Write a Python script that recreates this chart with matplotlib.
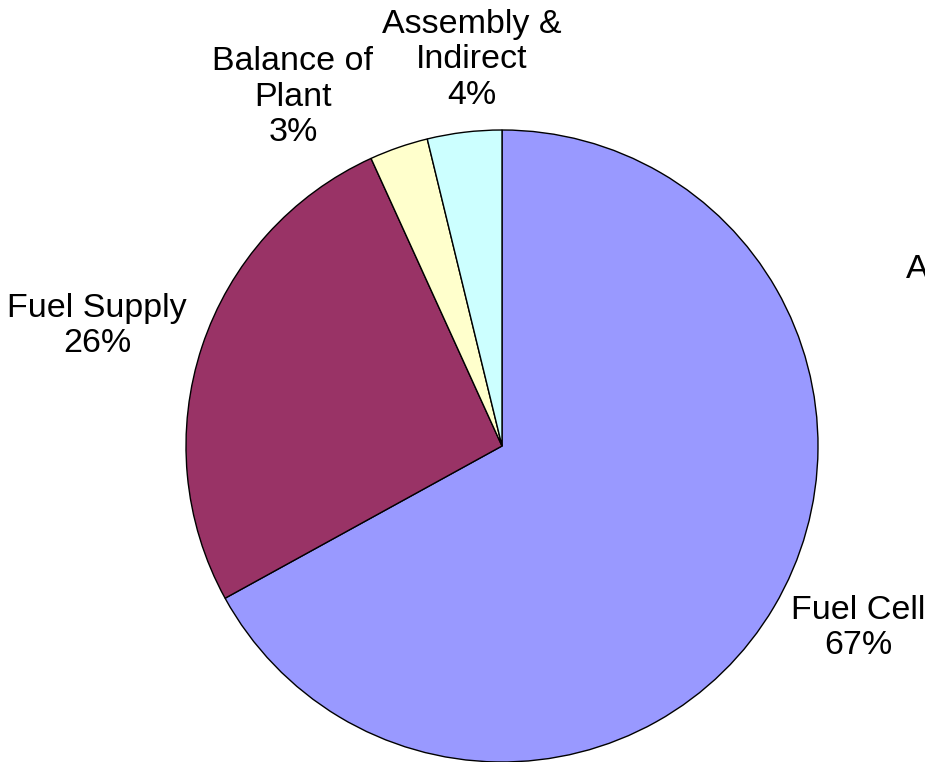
import matplotlib.pyplot as plt

plt.rcParams['font.family'] = ['Liberation Sans', 'DejaVu Sans']

# Cost breakdown (share of total, %)
categories = ['Fuel Cell', 'Fuel Supply', 'Balance of\nPlant', 'Assembly &\nIndirect']
shares = [67.0, 26.2, 3.0, 3.8]
colors = ['#9999FF', '#993366', '#FFFFCC', '#CCFFFF']

W, H = 925, 762
fig = plt.figure(figsize=(W / 100, H / 100), dpi=100)
ax = fig.add_axes([0, 0, 1, 1])

# pie drawn in pixel-like coordinates (y measured upward)
ax.pie(shares, colors=colors, startangle=90, counterclock=False,
       center=(502, H - 446), radius=316, frame=True,
       wedgeprops=dict(edgecolor='black', linewidth=1.0))

# label centres (pixels from top-left)
label_pos = [(858, 628), (97, 326), (293, 97), (472, 60)]
for name, val, (px, py) in zip(categories, shares, label_pos):
    ax.text(px, H - py, f'{name}\n{round(val):.0f}%', ha='center', va='center',
            fontsize=24.5, linespacing=1.2, color='black')

# partially visible title text at the right edge
ax.text(906, H - 270, 'A', ha='left', va='center', fontsize=24.5)

ax.set_xlim(0, W)
ax.set_ylim(0, H)
ax.set_aspect('equal')
ax.axis('off')

fig.savefig('out.png', dpi=100)
